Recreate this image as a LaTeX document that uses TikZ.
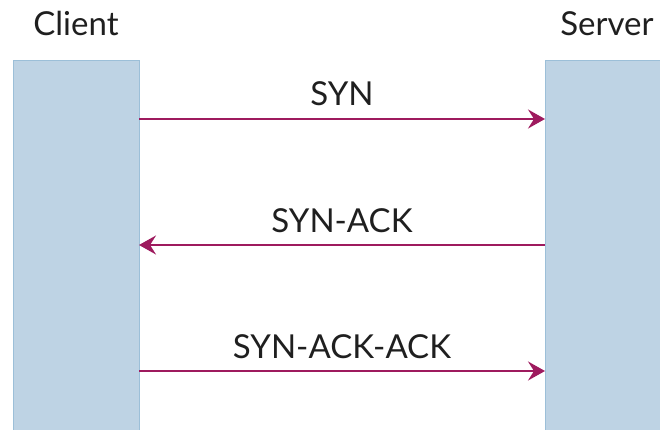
\documentclass[tikz,border=0pt]{standalone}
\usepackage{fontspec}
\setmainfont{Lato}
\usetikzlibrary{arrows.meta}
\definecolor{barfill}{HTML}{BED3E4}
\definecolor{baredge}{HTML}{9CBFD8}
\definecolor{msg}{HTML}{9E1A5E}
\begin{document}
\begin{tikzpicture}[x=1pt,y=-1pt,
  lifeline/.style={draw=baredge,line width=1pt,fill=barfill,minimum width=126pt,minimum height=370pt,inner sep=0pt,anchor=north west},
  head/.style={font=\fontsize{33}{36}\selectfont,text=black!88,anchor=base},
  msgline/.style={draw=msg,line width=2pt,-{Stealth[length=17pt,width=19pt,inset=6pt]}},
  msglabel/.style={font=\fontsize{33}{36}\selectfont,text=black!88,anchor=base}]
  \useasboundingbox (0,0) rectangle (660,430);
  % participants
  \node[lifeline] (client) at (13,60) {};
  \node[lifeline,minimum width=130pt] (server) at (545,60) {};
  \node[head] (clientname) at (76,36) {Client};
  \node[head] (servername) at (607,36) {Server};
  % message endpoints on the bars
  \coordinate (c1) at (139,119);
  \coordinate (s1) at (545,119);
  \coordinate (c2) at (139,245);
  \coordinate (s2) at (545,245);
  \coordinate (c3) at (139,371);
  \coordinate (s3) at (545,371);
  % handshake messages
  \draw[msgline] (c1) -- (s1);
  \draw[msgline] (s2) -- (c2);
  \draw[msgline] (c3) -- (s3);
  \node[msglabel] (syn) at (342,106) {SYN};
  \node[msglabel] (synack) at (342,232) {SYN-ACK};
  \node[msglabel] (synackack) at (342,358) {SYN-ACK-ACK};
\end{tikzpicture}
\end{document}
